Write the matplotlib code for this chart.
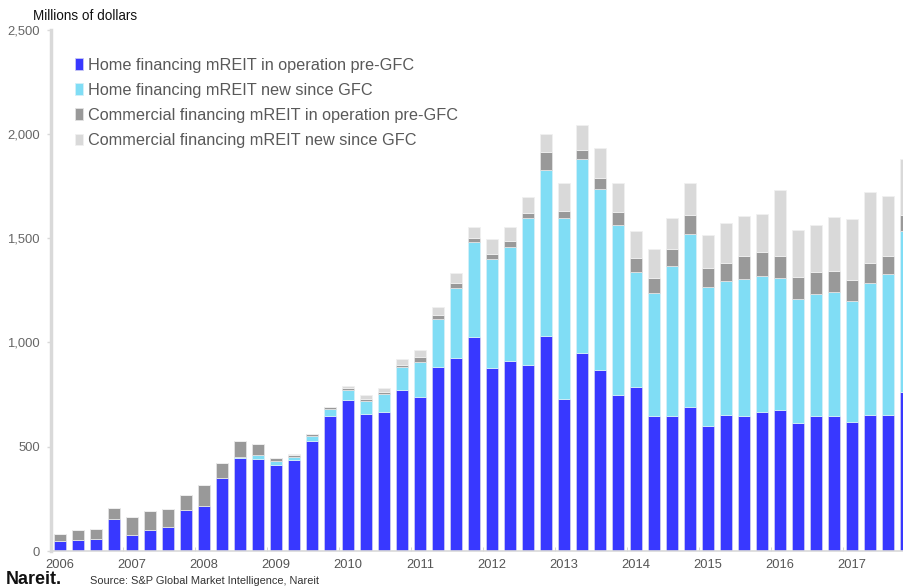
import matplotlib
matplotlib.use("Agg")
import matplotlib.pyplot as plt
import numpy as np

plt.rcParams['font.family'] = ['Liberation Sans', 'DejaVu Sans']

# Quarterly data 2006Q1 - 2017Q4, millions of dollars
quarters = [f"{y}Q{q}" for y in range(2006, 2018) for q in range(1, 5)]
home_pre = [49, 54, 59, 155, 78, 102, 117, 198, 217, 348, 447, 441,
            414, 438, 527, 645, 722, 658, 666, 771, 738, 883, 925, 1027,
            878, 912, 890, 1029, 728, 949, 870, 747, 784, 645, 648, 692,
            601, 652, 648, 668, 676, 615, 648, 648, 617, 652, 653, 763]
home_new = [0, 0, 0, 0, 0, 0, 0, 0, 0, 0, 5, 19,
            19, 12, 22, 35, 49, 61, 85, 109, 169, 229, 334, 454,
            521, 545, 707, 797, 869, 929, 865, 815, 554, 590, 719, 827,
            664, 640, 655, 650, 632, 594, 585, 595, 582, 635, 676, 772]
comm_pre = [32, 46, 46, 51, 83, 90, 86, 70, 99, 75, 75, 54,
            11, 10, 10, 10, 12, 11, 12, 14, 23, 20, 25, 20,
            24, 28, 23, 86, 32, 43, 51, 62, 66, 75, 80, 91,
            91, 90, 112, 116, 107, 105, 105, 100, 98, 95, 86, 74]
comm_new = [0, 0, 0, 0, 0, 0, 0, 0, 0, 0, 0, 0,
            3, 3, 3, 2, 7, 17, 18, 28, 35, 39, 48, 51,
            75, 67, 75, 86, 134, 122, 145, 139, 131, 140, 149, 153,
            158, 190, 190, 181, 315, 226, 227, 257, 295, 337, 288, 269]
series_names = ["Home financing mREIT in operation pre-GFC",
                "Home financing mREIT new since GFC",
                "Commercial financing mREIT in operation pre-GFC",
                "Commercial financing mREIT new since GFC"]
colors = ["#3838FF", "#80DDF5", "#999999", "#D9D9D9"]
edge_colors = ["#C8C8F4", "#D4F0F8", "#E2E2E2", "#F0F0F0"]
year_labels = [str(y) for y in range(2006, 2018)]

fig = plt.figure(figsize=(9.04, 5.88), dpi=100)
ax = fig.add_axes([51/904, 37/588, 853/904, 521.5/588])

x = np.arange(len(quarters))
bottom = np.zeros(len(quarters))
handles = []
for vals, c, ec, name in zip([home_pre, home_new, comm_pre, comm_new], colors, edge_colors, series_names):
    v = np.array(vals, dtype=float)
    b = ax.bar(x, v, width=0.67, bottom=bottom, color=c, edgecolor=ec, linewidth=0.6, label=name, zorder=2)
    handles.append(b)
    bottom += v

ax.set_yticks([0, 500, 1000, 1500, 2000, 2500])
ax.set_yticklabels(["0", "500", "1,000", "1,500", "2,000", "2,500"], color="#666666", fontsize=9.4)
ax.set_xticks(np.arange(0, 48, 4))
ax.set_xticklabels(year_labels, color="#555555", fontsize=9.3)
ax.set_xticks(np.arange(3.5, 47, 4), minor=True)
ax.set_ylim(0, 2500)
ax.set_xlim(-0.5, 46.89)
ax.tick_params(axis='x', which='major', length=0, pad=6)
ax.tick_params(axis='x', which='minor', length=3, direction='in', color="#CCCCCC")
ax.tick_params(axis='y', length=3, direction='out', color="#D9D9D9", width=1, pad=5)

for s in ['top', 'right']:
    ax.spines[s].set_visible(False)
ax.spines['left'].set_color("#D9D9D9")
ax.spines['left'].set_linewidth(2.5)
ax.spines['bottom'].set_color("#D9D9D9")
ax.spines['bottom'].set_linewidth(1.2)

leg = ax.legend(handles=handles, loc='upper left', bbox_to_anchor=(0.011, 0.974),
                frameon=False, fontsize=11.7, handlelength=0.5, handleheight=0.7,
                handletextpad=0.3, labelspacing=0.62, labelcolor="#595959")

fig.text(33/904, 1 - 16/588, "Millions of dollars", fontsize=9.75, color="#111111", va='center', ha='left')
fig.text(6/904, 1 - 579/588, "Nareit.", fontsize=13, fontweight='bold', color="#111111", va='center', ha='left')
fig.text(90/904, 1 - 581/588, "Source: S&P Global Market Intelligence, Nareit", fontsize=7.9, color="#333333", va='center', ha='left')

fig.savefig("out.png", dpi=100)
